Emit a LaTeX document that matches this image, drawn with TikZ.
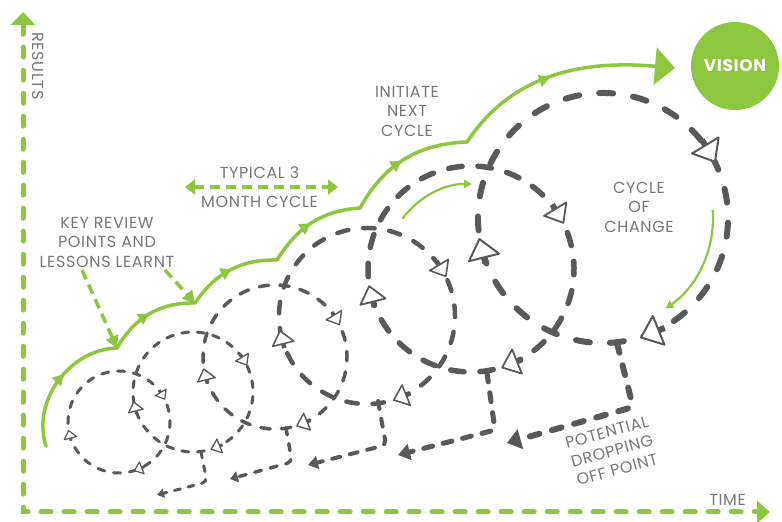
\documentclass[tikz,border=0pt]{standalone}
\usepackage{fontspec}
\setmainfont{Poppins}[LetterSpace=4]
\usetikzlibrary{arrows.meta,decorations.markings}
\definecolor{grn}{RGB}{141,198,63}
\definecolor{dgray}{RGB}{88,89,91}
\definecolor{tgray}{RGB}{118,119,122}
\tikzset{
  lbl/.style={text=tgray, font=\fontsize{16}{19.5}\selectfont, align=center, inner sep=0pt},
  cyc/.style n args={3}{draw=dgray, line width=#1, dash pattern=on #2 off #3, line cap=round},
  dropline/.style n args={3}{draw=dgray, fill=none, line width=#1, dash pattern=on #2 off #3, line cap=round, rounded corners=5pt},
  gline/.style={color=grn, line width=3.5pt, line cap=round},
  gseg/.style={gline, postaction={decorate}, decoration={markings, mark=at position #1 with {\arrow{Triangle[length=11pt,width=12pt]}}}},
  gdash/.style={color=grn, line width=3.5pt, dash pattern=on 10pt off 6pt},
  axisline/.style={color=grn, line width=5pt, dash pattern=on 10pt off 13pt, line cap=round},
  thing/.style={color=grn, line width=2.2pt},
}
\newcommand{\cycarr}[6]{%
  \begin{scope}[shift={(#1)}, rotate=#3, xshift=#2pt, rotate=-90, scale=#4]
    \draw[draw=dgray, line width=#5] (-9.5,0) -- (-16,0);
    \filldraw[fill=white, draw=dgray, line width=#6, line join=round] (-9.5,15.5) -- (9.5,0) -- (-9.5,-15.5) -- cycle;
  \end{scope}}
\newcommand{\cycring}[6]{% centre, radius, start angle, line width, on, off
  \draw[cyc={#4}{#5}{#6}] ([shift={(#3:#2)}]#1) arc[start angle=#3, delta angle=-360, radius=#2];}
\begin{document}
\begin{tikzpicture}[x=1pt,y=1pt]
\useasboundingbox (0,0) rectangle (782,522);
% centres of the cycles
\coordinate (c1) at (119,100);
\coordinate (c2) at (193,130);
\coordinate (c3) at (275,165);
\coordinate (c4) at (367,206);
\coordinate (c5) at (471,253);
\coordinate (c6) at (603,304);
% axes
\coordinate (ytip) at (23,510);
\coordinate (orig) at (23,10);
\coordinate (xtip) at (770,10);
\draw[axisline, {Triangle[length=13pt,width=24pt]}-{Triangle[length=13pt,width=22pt]}] (ytip) -- (orig) -- (xtip);
% cycles (dash periods fit the circumference; a dash is centred where the drop line leaves)
\cycring{c1}{51}{73.7}{3pt}{7pt}{9.02pt}
\cycring{c2}{60}{-79.1}{3pt}{7pt}{8.71pt}
\cycring{c3}{72}{-77.4}{3.5pt}{9.5pt}{11.06pt}
\cycring{c4}{88}{-78.9}{4.5pt}{11.5pt}{14.83pt}
\cycring{c5}{103}{-77.5}{5.5pt}{13.5pt}{15.92pt}
\cycring{c6}{125}{-80.4}{6pt}{14pt}{20.15pt}
% drop-off lines
\coordinate (d2a) at (201,70);  \coordinate (d2b) at (207,40);  \coordinate (d2c) at (157,27);
\coordinate (d3a) at (286,94);  \coordinate (d3b) at (292,60);  \coordinate (d3c) at (230,43);
\coordinate (d4a) at (378,121); \coordinate (d4b) at (386,77);  \coordinate (d4c) at (308,57);
\coordinate (d5a) at (487,149); \coordinate (d5b) at (495,92);  \coordinate (d5c) at (398,67);
\coordinate (d6a) at (617,179); \coordinate (d6b) at (633,115); \coordinate (d6c) at (507,79);
\draw[dropline={3pt}{6pt}{8pt}, -{Triangle[length=7pt,width=9pt]}] (d2a) -- (d2b) -- (d2c);
\draw[dropline={3.5pt}{7pt}{9pt}, -{Triangle[length=8pt,width=11pt]}] (d3a) -- (d3b) -- (d3c);
\draw[dropline={4pt}{8pt}{10pt}, -{Triangle[length=10pt,width=13pt]}] (d4a) -- (d4b) -- (d4c);
\draw[dropline={5pt}{9pt}{11pt}, -{Triangle[length=12pt,width=16pt]}] (d5a) -- (d5b) -- (d5c);
\draw[dropline={6pt}{10pt}{13pt}, -{Triangle[length=14pt,width=20pt]}] (d6a) -- (d6b) -- (d6c);
% arrows on the cycles
\foreach \a in {31,-68,194}{
  \cycarr{c1}{51}{\a}{0.41}{3pt}{1.2pt}
  \cycarr{c2}{60}{\a}{0.48}{3pt}{1.3pt}
  \cycarr{c3}{72}{\a}{0.58}{3.5pt}{1.4pt}
  \cycarr{c4}{88}{\a}{0.70}{4.5pt}{1.6pt}
  \cycarr{c5}{103}{\a}{0.84}{5.5pt}{1.8pt}
  \cycarr{c6}{125}{\a}{1.0}{6pt}{2pt}
}
% growth line
\coordinate (k0) at (46,76);
\coordinate (k1) at (117,174);
\coordinate (k2) at (195,219);
\coordinate (k3) at (277,262);
\coordinate (k4) at (360,314);
\coordinate (k5) at (467,380);
\coordinate (k6) at (675,454);
\draw[gseg=0.56] (k0) to[out=108,in=181.5] (k1);
\draw[gseg=0.5] (k1) to[out=59.9,in=178.7] (k2);
\draw[gseg=0.52] (k2) to[out=56,in=178.8] (k3);
\draw[gseg=0.49] (k3) to[out=58.1,in=183.7] (k4);
\draw[gseg=0.48] (k4) to[out=61.2,in=181.8] (k5);
\draw[gseg=0.46, -{Triangle[length=20pt,width=37pt]}] (k5) to[out=56.5,in=175] (k6);
% key review arrows
\coordinate (r1) at (82,252);
\coordinate (r2) at (165,252);
\draw[gdash, -{Triangle[length=12pt,width=13pt]}] (r1) -- (k1);
\draw[gdash, -{Triangle[length=12pt,width=13pt]}] (r2) -- (k2);
% typical cycle arrow
\coordinate (t1) at (185,335);
\coordinate (t2) at (338,335);
\draw[gdash, {Triangle[length=10pt,width=15pt]}-{Triangle[length=10pt,width=15pt]}] (t1) -- (t2);
% thin green arrows
\draw[thing, -{Triangle[length=8pt,width=8pt]}] ([shift={(143.7:85)}]c5) arc[start angle=143.7, end angle=89.3, radius=85];
\draw[thing, -{Triangle[length=8pt,width=8pt]}] ([shift={(4.2:110)}]c6) arc[start angle=4.2, end angle=-55.4, radius=110];
% labels
\node[lbl] (keyrev) at (107,280) {KEY REVIEW\\POINTS AND\\LESSONS LEARNT};
\node[lbl, anchor=base] (typ1) at (259.5,343) {TYPICAL 3};
\node[lbl, anchor=base] (typ2) at (259.5,314) {MONTH CYCLE};
\node[lbl] (init) at (407,411) {INITIATE\\NEXT\\CYCLE};
\node[lbl] (coc) at (639,315) {CYCLE\\OF\\CHANGE};
\node[lbl, rotate=15] (pot) at (612,71) {POTENTIAL\\DROPPING\\OFF POINT};
\node[lbl, anchor=base] (time) at (727.5,16) {TIME};
\node[lbl, rotate=-90] (res) at (38.5,456) {RESULTS};
\node[circle, fill=grn, minimum size=88pt, inner sep=0pt, text=white, font=\fontsize{17}{20}\selectfont\bfseries] (vision) at (735,456) {VISION};
\end{tikzpicture}
\end{document}
